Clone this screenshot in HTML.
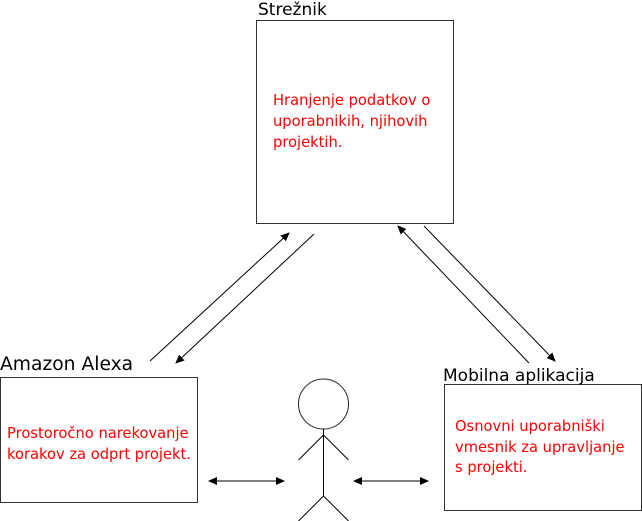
<!DOCTYPE html>
<html><head><meta charset="utf-8"><style>
html,body{margin:0;padding:0;background:#fff;}
svg{display:block;}
text{font-family:"DejaVu Sans","Liberation Sans",sans-serif;}
</style></head><body>
<svg width="642" height="521" viewBox="0 0 642 521" xmlns="http://www.w3.org/2000/svg">
<defs>
<marker id="a" markerWidth="10" markerHeight="10" refX="8" refY="4" orient="auto" markerUnits="userSpaceOnUse">
<path d="M0,0 L9,4 L0,8 Z" fill="#000"/></marker>
<marker id="s" markerWidth="10" markerHeight="10" refX="1" refY="4" orient="auto" markerUnits="userSpaceOnUse">
<path d="M9,0 L0,4 L9,8 Z" fill="#000"/></marker>
</defs>
<g fill="#fff" stroke="#333" stroke-width="1">
<rect x="256.5" y="20.5" width="197" height="203"/>
<rect x="0.5" y="377.5" width="197" height="125"/>
<rect x="444.5" y="384.5" width="197" height="126"/>
</g>
<text x="258" y="15" font-size="17">Strežnik</text>
<text x="0" y="370" font-size="18.7">Amazon Alexa</text>
<text x="443" y="381" font-size="17">Mobilna aplikacija</text>
<g fill="#ff0000" font-size="14.7">
<text x="273" y="105">Hranjenje podatkov o</text>
<text x="273" y="126">uporabnikih, njihovih</text>
<text x="273" y="147">projektih.</text>
<text x="7" y="438">Prostoročno narekovanje</text>
<text x="7" y="459">korakov za odprt projekt.</text>
<text x="455" y="431">Osnovni uporabniški</text>
<text x="455" y="452">vmesnik za upravljanje</text>
<text x="455" y="472">s projekti.</text>
</g>
<g stroke="#000" stroke-width="1" fill="none">
<line x1="150" y1="361" x2="289" y2="233" marker-end="url(#a)"/>
<line x1="314" y1="234" x2="176" y2="363" marker-end="url(#a)"/>
<line x1="529" y1="363" x2="398" y2="226" marker-end="url(#a)"/>
<line x1="424" y1="226" x2="555" y2="361" marker-end="url(#a)"/>
<line x1="209" y1="481" x2="284" y2="481" marker-start="url(#s)" marker-end="url(#a)"/>
<line x1="354" y1="481" x2="428" y2="481" marker-start="url(#s)" marker-end="url(#a)"/>
<circle cx="323.5" cy="404" r="25" stroke="#222"/>
<line x1="323.5" y1="429" x2="323.5" y2="496"/>
<line x1="323.5" y1="435" x2="298.5" y2="460"/>
<line x1="323.5" y1="435" x2="348.5" y2="460"/>
<line x1="323.5" y1="496" x2="298.5" y2="521"/>
<line x1="323.5" y1="496" x2="348.5" y2="521"/>
</g>
</svg>
</body></html>
